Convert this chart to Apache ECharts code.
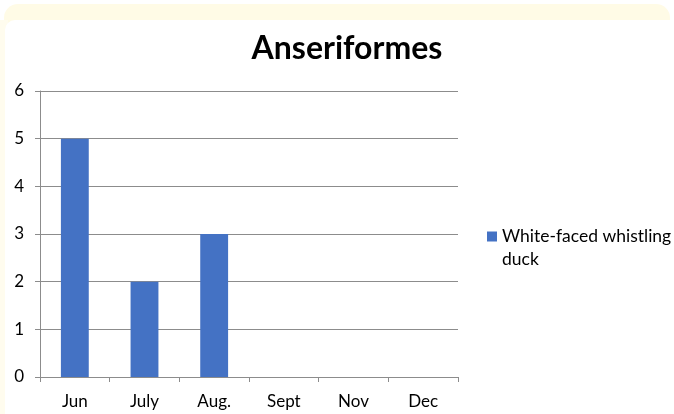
<!DOCTYPE html>
<html>
<head>
<meta charset="utf-8">
<script src="https://cdn.jsdelivr.net/npm/echarts@6/dist/echarts.min.js"></script>
<style>
html,body{margin:0;padding:0;background:#fff;}
#wrap{position:relative;width:674px;height:414px;overflow:hidden;background:#fff;}
#glowTop{position:absolute;left:4px;top:4px;width:666px;height:40px;background:#fffbe6;border-radius:14px 14px 0 0;}
#glowLeft{position:absolute;left:0;top:20px;width:8px;height:394px;background:#fffcee;}
#inner{position:absolute;left:5px;top:20px;width:669px;height:394px;background:#fff;border-radius:10px 0 0 0;}
#test{position:absolute;left:0;top:0;width:674px;height:414px;}
</style>
</head>
<body>
<div id="wrap">
  <div id="glowTop"></div>
  <div id="glowLeft"></div>
  <div id="inner"></div>
  <div id="test"></div>
</div>
<script>
var months = ['Jun', 'July', 'Aug.', 'Sept', 'Nov', 'Dec'];
var duckCount = [5, 2, 3, 0, 0, 0];
var yTicks = [0, 1, 2, 3, 4, 5, 6];

var myChart = echarts.init(document.getElementById('test'));
myChart.setOption({
    backgroundColor: 'transparent',
    animation: false,
    textStyle: {fontFamily: 'Lato'},
    title: {
        text: 'Anseriformes',
        left: 342,
        textAlign: 'center',
        top: 28,
        textStyle: {fontFamily: 'Lato', fontWeight: 'bold', fontSize: 32, color: '#000'}
    },
    legend: {
        orient: 'vertical',
        left: 487,
        top: 202,
        padding: 0,
        itemWidth: 10,
        itemHeight: 10,
        itemGap: 5,
        icon: 'rect',
        formatter: function (name) {
            return ' \nWhite-faced whistling\nduck';
        },
        textStyle: {fontFamily: 'Lato', fontSize: 17.5, color: '#000', lineHeight: 23},
        data: ['White-faced whistling duck']
    },
    grid: {left: 40, right: 216, top: 91, bottom: 37},
    xAxis: {
        type: 'category',
        data: months,
        axisLine: {lineStyle: {color: '#8c8c8c', width: 1}},
        axisTick: {show: true, length: 5, interval: 0, lineStyle: {color: '#8c8c8c'}},
        axisLabel: {color: '#000', fontSize: 17, margin: 16, interval: 0}
    },
    yAxis: {
        type: 'value',
        min: yTicks[0],
        max: yTicks[yTicks.length - 1],
        interval: 1,
        axisLine: {show: true, lineStyle: {color: '#8c8c8c', width: 1}},
        axisTick: {show: true, length: 5, lineStyle: {color: '#8c8c8c'}},
        axisLabel: {color: '#000', fontSize: 17, margin: 16},
        splitLine: {show: true, lineStyle: {color: '#8c8c8c', width: 1}}
    },
    series: [{
        name: 'White-faced whistling duck',
        type: 'bar',
        data: duckCount,
        barWidth: '40%',
        itemStyle: {color: '#4472c4'}
    }]
});
</script>
</body>
</html>
